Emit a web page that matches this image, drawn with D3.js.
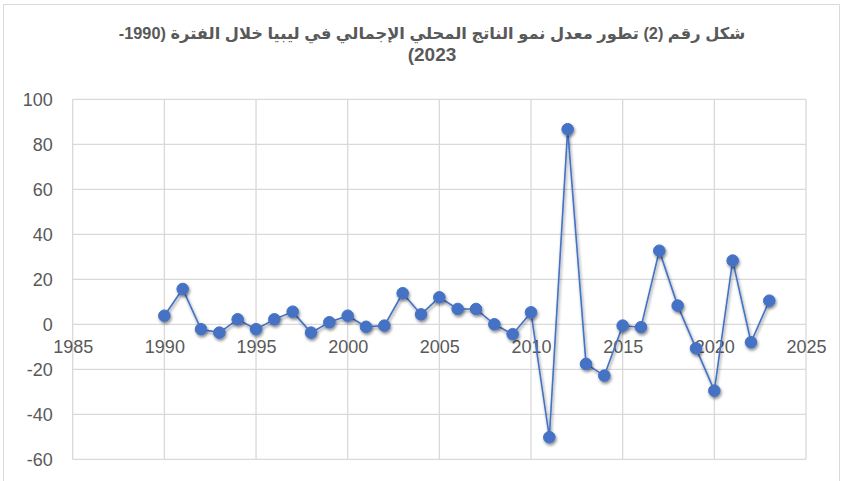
<!DOCTYPE html>
<html>
<head>
<meta charset="utf-8">
<script src="https://cdn.jsdelivr.net/npm/d3@7"></script>
<style>
  body { margin: 0; background: #fff; }
  svg { display: block; }
</style>
</head>
<body>
<div id="chart"></div>
<script>
// DATA
const years = d3.range(1990, 2024);
const growth = [3.8, 15.7, -2.2, -3.7, 2.2, -2.2, 2.2, 5.6, -3.7, 0.9,
                3.8, -1.1, -0.6, 13.8, 4.4, 12.0, 6.8, 6.8, 0.0, -4.4,
                5.3, -50.2, 86.7, -17.6, -22.8, -0.6, -1.3, 32.7, 8.3, -10.7,
                -29.5, 28.3, -8.0, 10.5];
const xTicks = [1985, 1990, 1995, 2000, 2005, 2010, 2015, 2020, 2025];
const yTicks = [-60, -40, -20, 0, 20, 40, 60, 80, 100];
const titleLines = ["شكل رقم (2) تطور معدل نمو الناتج المحلي الإجمالي في ليبيا خلال الفترة (1990-", "2023)"];

const width = 842, height = 481;
const plot = { left: 72.7, right: 806, top: 99.3, bottom: 459.3 };
const grey = "#595959";
const blue = "#4472C4";
const font = "'Liberation Sans', Arial, sans-serif";

const svg = d3.select("#chart").append("svg")
    .attr("width", width)
    .attr("height", height);

// chart frame
svg.append("rect")
    .attr("x", 3.5).attr("y", 4.5)
    .attr("width", 836).attr("height", 490)
    .attr("fill", "#fff")
    .attr("stroke", "#d9d9d9");

// shadow for markers
const defs = svg.append("defs");
defs.append("filter").attr("id", "shadow")
    .attr("x", "-50%").attr("y", "-50%").attr("width", "200%").attr("height", "200%")
  .append("feDropShadow")
    .attr("dx", 1).attr("dy", 2).attr("stdDeviation", 1.5)
    .attr("flood-color", "#000").attr("flood-opacity", 0.45);

const x = d3.scaleLinear().domain([1985, 2025]).range([plot.left, plot.right]);
const y = d3.scaleLinear().domain([-60, 100]).range([plot.bottom, plot.top]);

// GRID
svg.append("g")
    .selectAll("line")
    .data(yTicks)
    .join("line")
    .attr("x1", plot.left).attr("x2", plot.right)
    .attr("y1", d => y(d)).attr("y2", d => y(d))
    .attr("stroke", "#d9d9d9").attr("stroke-width", 1.3);

svg.append("g")
    .selectAll("line")
    .data(xTicks)
    .join("line")
    .attr("x1", d => x(d)).attr("x2", d => x(d))
    .attr("y1", plot.top).attr("y2", plot.bottom)
    .attr("stroke", "#d9d9d9").attr("stroke-width", 1.3);

// AXES (labels only, Excel style)
const yAxis = svg.append("g")
    .attr("transform", `translate(${plot.left - 20},0)`)
    .call(d3.axisLeft(y).tickValues(yTicks).tickFormat(d => String(d)).tickSize(0).tickPadding(0));
yAxis.select(".domain").remove();
yAxis.selectAll("text")
    .attr("fill", grey)
    .attr("font-family", font)
    .attr("font-size", 18);

const xAxis = svg.append("g")
    .attr("transform", `translate(0,${y(0) + 16})`)
    .call(d3.axisBottom(x).tickValues(xTicks).tickFormat(d => String(d)).tickSize(0).tickPadding(0));
xAxis.select(".domain").remove();
xAxis.selectAll("text")
    .attr("fill", grey)
    .attr("font-family", font)
    .attr("font-size", 18);

// SERIES
const data = years.map((yr, i) => ({ year: yr, value: growth[i] }));

svg.append("path")
    .datum(data)
    .attr("fill", "none")
    .attr("stroke", blue)
    .attr("stroke-width", 1.6)
    .attr("filter", "url(#shadow)")
    .attr("d", d3.line().x(d => x(d.year)).y(d => y(d.value)));

svg.append("g")
    .attr("filter", "url(#shadow)")
    .selectAll("circle")
    .data(data)
    .join("circle")
    .attr("cx", d => x(d.year))
    .attr("cy", d => y(d.value))
    .attr("r", 5.8)
    .attr("fill", blue)
    .attr("stroke", blue);

// TITLE
svg.append("text")
    .attr("x", 432).attr("y", 39)
    .attr("text-anchor", "middle")
    .attr("direction", "rtl")
    .attr("fill", grey)
    .attr("font-family", "'Liberation Sans', Arial, 'DejaVu Sans', sans-serif")
    .attr("font-weight", "bold")
    .selectAll("tspan")
    .data(titleLines)
    .join("tspan")
    .attr("x", 432)
    .attr("dy", (d, i) => i === 0 ? 0 : 22)
    .attr("font-size", (d, i) => i === 0 ? 16.3 : 19)
    .text(d => d);
</script>
</body>
</html>
